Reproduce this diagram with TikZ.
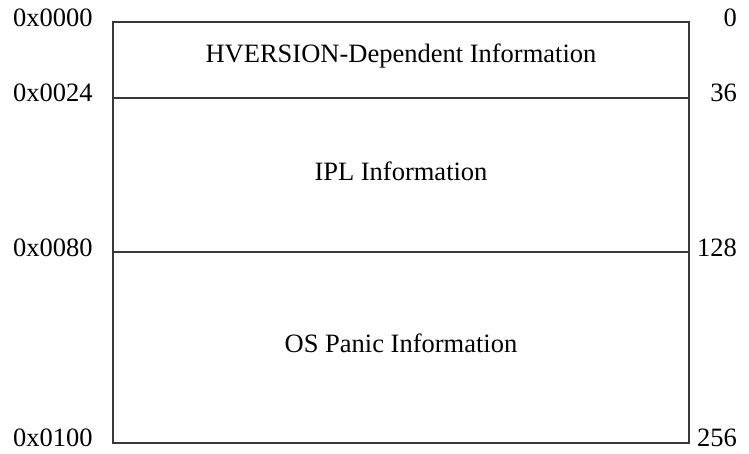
\documentclass[tikz,border=0pt]{standalone}
\usepackage{fontspec}
\setmainfont{Liberation Serif}
\begin{document}
\begin{tikzpicture}[x=1pt,y=-1pt,
  lbl/.style={inner sep=0pt,font=\fontsize{26.5}{30}\selectfont},
  boxline/.style={draw=black!78,line width=1.4pt},
]
\useasboundingbox (0,0) rectangle (749,454);
% corners and dividers
\coordinate (tl) at (113,22);
\coordinate (tr) at (689,22);
\coordinate (bl) at (113,443);
\coordinate (br) at (689,443);
\coordinate (d1l) at (113,98);
\coordinate (d1r) at (689,98);
\coordinate (d2l) at (113,252);
\coordinate (d2r) at (689,252);
\draw[boxline] (tl) -- (tr) -- (br) -- (bl) -- cycle;
\draw[boxline] (d1l) -- (d1r);
\draw[boxline] (d2l) -- (d2r);
% section titles
\node[lbl,anchor=base] (s1) at (401,63) {HVERSION-Dependent Information};
\node[lbl,anchor=base] (s2) at (401,180.7) {IPL Information};
\node[lbl,anchor=base] (s3) at (401,352.7) {OS Panic Information};
% left labels
\node[lbl,anchor=base west] (h0) at (13,27) {0x0000};
\node[lbl,anchor=base west] (h1) at (13,101.5) {0x0024};
\node[lbl,anchor=base west] (h2) at (13,256.7) {0x0080};
\node[lbl,anchor=base west] (h3) at (13,446.7) {0x0100};
% right labels
\node[lbl,anchor=base east] (n0) at (737,27) {0};
\node[lbl,anchor=base east] (n1) at (737,101.5) {36};
\node[lbl,anchor=base east] (n2) at (737,256.7) {128};
\node[lbl,anchor=base east] (n3) at (737,446.7) {256};
\end{tikzpicture}
\end{document}
